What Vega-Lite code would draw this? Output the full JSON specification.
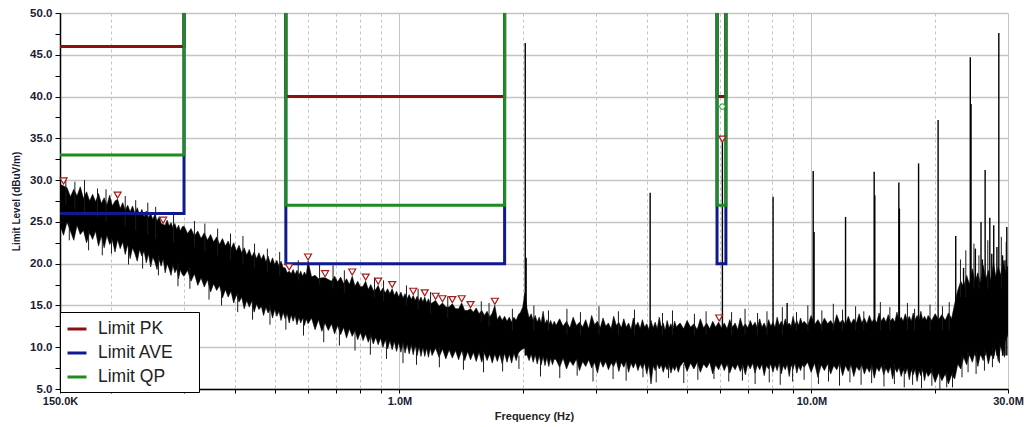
{
"$schema": "https://vega.github.io/schema/vega-lite/v6.json",
"width": 948, "height": 376,
"autosize": {"type": "none"},
"padding": {"left": 60, "top": 13, "right": 16, "bottom": 38},
"background": "white",
"config": {"view": {"stroke": null}, "font": "Liberation Sans"},
"datasets": {
"trace": [
{"f":150000,"v":29.5,"lo":24.6},{"f":153000,"v":29.3,"lo":23.4},{"f":156000,"v":29.1,"lo":25.0},{"f":159000,"v":28.0,"lo":23.9},{"f":162000,"v":28.9,"lo":22.8},{"f":165000,"v":28.1,"lo":24.6},{"f":168000,"v":29.2,"lo":23.5},{"f":171000,"v":27.8,"lo":24.0},{"f":174000,"v":28.6,"lo":22.5},{"f":177000,"v":27.5,"lo":23.7},
{"f":180000,"v":28.3,"lo":22.9},{"f":183000,"v":27.4,"lo":23.9},{"f":186000,"v":28.4,"lo":22.1},{"f":189000,"v":27.2,"lo":23.3},{"f":192000,"v":27.9,"lo":21.9},{"f":195000,"v":27.0,"lo":23.4},{"f":198000,"v":28.2,"lo":22.3},{"f":201000,"v":26.9,"lo":22.8},{"f":204000,"v":27.5,"lo":21.4},{"f":207000,"v":27.7,"lo":22.9},
{"f":210000,"v":26.6,"lo":21.8},{"f":213000,"v":27.3,"lo":22.6},{"f":216000,"v":26.4,"lo":21.1},{"f":219000,"v":27.0,"lo":22.3},{"f":222000,"v":26.2,"lo":20.6},{"f":225000,"v":26.9,"lo":21.9},{"f":228000,"v":26.0,"lo":21.2},{"f":231000,"v":26.7,"lo":20.3},{"f":234000,"v":25.8,"lo":21.7},{"f":237000,"v":26.5,"lo":20.9},
{"f":240000,"v":25.6,"lo":21.5},{"f":243000,"v":26.3,"lo":20.1},{"f":246000,"v":25.5,"lo":21.2},{"f":249000,"v":26.0,"lo":19.6},{"f":252000,"v":25.3,"lo":20.8},{"f":255000,"v":25.9,"lo":20.2},{"f":258000,"v":25.1,"lo":19.3},{"f":261000,"v":25.6,"lo":20.5},{"f":264000,"v":24.8,"lo":19.7},{"f":267000,"v":24.7,"lo":20.6},
{"f":270000,"v":24.6,"lo":18.9},{"f":273000,"v":25.2,"lo":20.0},{"f":276000,"v":24.5,"lo":19.4},{"f":279000,"v":24.9,"lo":18.6},{"f":282000,"v":24.3,"lo":19.8},{"f":285000,"v":24.8,"lo":18.9},{"f":288000,"v":24.1,"lo":19.4},{"f":291000,"v":24.6,"lo":18.2},{"f":294000,"v":23.9,"lo":19.3},{"f":297000,"v":24.4,"lo":18.7},
{"f":300000,"v":24.5,"lo":18.5},{"f":306000,"v":23.6,"lo":19.2},{"f":312000,"v":24.2,"lo":17.9},{"f":318000,"v":23.3,"lo":18.8},{"f":324000,"v":23.9,"lo":17.4},{"f":330000,"v":23.0,"lo":18.3},{"f":336000,"v":23.7,"lo":17.2},{"f":342000,"v":22.8,"lo":18.1},{"f":348000,"v":23.5,"lo":16.6},{"f":354000,"v":22.6,"lo":17.6},
{"f":360000,"v":23.2,"lo":16.8},{"f":366000,"v":22.3,"lo":17.4},{"f":372000,"v":23.0,"lo":15.9},{"f":378000,"v":22.1,"lo":16.9},{"f":384000,"v":22.7,"lo":16.0},{"f":390000,"v":21.8,"lo":16.7},{"f":396000,"v":22.5,"lo":15.3},{"f":402000,"v":21.5,"lo":16.3},{"f":408000,"v":22.2,"lo":15.4},{"f":414000,"v":21.3,"lo":16.0},
{"f":420000,"v":21.9,"lo":14.6},{"f":426000,"v":21.0,"lo":15.6},{"f":432000,"v":21.7,"lo":14.8},{"f":438000,"v":20.8,"lo":15.5},{"f":444000,"v":21.4,"lo":14.2},{"f":450000,"v":20.6,"lo":15.2},{"f":456000,"v":21.3,"lo":14.5},{"f":462000,"v":20.5,"lo":14.9},{"f":468000,"v":21.1,"lo":13.8},{"f":474000,"v":20.2,"lo":14.8},
{"f":480000,"v":20.9,"lo":14.1},{"f":486000,"v":20.0,"lo":14.6},{"f":492000,"v":20.7,"lo":13.5},{"f":498000,"v":19.9,"lo":14.5},{"f":504000,"v":20.4,"lo":13.7},{"f":510000,"v":19.7,"lo":14.3},{"f":516000,"v":20.3,"lo":13.2},{"f":522000,"v":19.5,"lo":14.2},{"f":528000,"v":19.5,"lo":13.4},{"f":534000,"v":18.9,"lo":14.0},
{"f":540000,"v":19.1,"lo":12.9},{"f":546000,"v":18.8,"lo":13.9},{"f":552000,"v":19.3,"lo":13.1},{"f":558000,"v":18.7,"lo":13.8},{"f":564000,"v":19.2,"lo":12.7},{"f":570000,"v":18.6,"lo":13.6},{"f":576000,"v":19.1,"lo":12.9},{"f":582000,"v":18.5,"lo":13.5},{"f":588000,"v":19.0,"lo":12.6},{"f":594000,"v":18.6,"lo":13.4},
{"f":600000,"v":20.3,"lo":12.8},{"f":612000,"v":18.4,"lo":13.5},{"f":624000,"v":18.6,"lo":12.1},{"f":636000,"v":18.2,"lo":13.3},{"f":648000,"v":18.3,"lo":11.9},{"f":660000,"v":18.3,"lo":12.9},{"f":672000,"v":18.1,"lo":12.0},{"f":684000,"v":17.9,"lo":12.8},{"f":696000,"v":18.5,"lo":11.6},{"f":708000,"v":17.8,"lo":12.6},
{"f":720000,"v":18.4,"lo":11.5},{"f":732000,"v":17.6,"lo":12.4},{"f":744000,"v":18.2,"lo":11.1},{"f":756000,"v":17.5,"lo":12.2},{"f":768000,"v":18.5,"lo":11.3},{"f":780000,"v":17.3,"lo":12.0},{"f":792000,"v":17.9,"lo":10.9},{"f":804000,"v":17.2,"lo":11.8},{"f":816000,"v":17.3,"lo":10.8},{"f":828000,"v":17.9,"lo":11.6},
{"f":840000,"v":16.9,"lo":10.6},{"f":852000,"v":17.5,"lo":11.4},{"f":864000,"v":16.8,"lo":10.4},{"f":876000,"v":16.9,"lo":11.2},{"f":888000,"v":17.4,"lo":10.3},{"f":900000,"v":16.6,"lo":11.1},{"f":912000,"v":17.1,"lo":10.0},{"f":924000,"v":16.5,"lo":10.9},{"f":936000,"v":17.0,"lo":9.8},{"f":948000,"v":16.4,"lo":10.8},
{"f":960000,"v":17.0,"lo":9.7},{"f":972000,"v":16.2,"lo":10.7},{"f":984000,"v":16.7,"lo":9.5},{"f":996000,"v":16.0,"lo":10.6},{"f":1008000,"v":16.6,"lo":9.4},{"f":1020000,"v":15.9,"lo":10.5},{"f":1032000,"v":16.4,"lo":9.3},{"f":1044000,"v":15.8,"lo":10.4},{"f":1056000,"v":16.3,"lo":9.2},{"f":1068000,"v":15.7,"lo":10.3},
{"f":1080000,"v":16.2,"lo":9.1},{"f":1092000,"v":15.6,"lo":10.2},{"f":1104000,"v":16.1,"lo":9.0},{"f":1116000,"v":15.5,"lo":10.1},{"f":1128000,"v":16.0,"lo":8.9},{"f":1140000,"v":15.4,"lo":10.0},{"f":1152000,"v":16.0,"lo":8.9},{"f":1164000,"v":15.3,"lo":9.9},{"f":1176000,"v":15.8,"lo":8.8},{"f":1188000,"v":15.2,"lo":9.9},
{"f":1200000,"v":15.3,"lo":9.0},{"f":1224000,"v":15.6,"lo":9.9},{"f":1248000,"v":14.9,"lo":8.8},{"f":1272000,"v":15.3,"lo":9.8},{"f":1296000,"v":14.8,"lo":8.6},{"f":1320000,"v":14.8,"lo":9.7},{"f":1344000,"v":15.2,"lo":8.7},{"f":1368000,"v":14.6,"lo":9.6},{"f":1392000,"v":14.6,"lo":8.5},{"f":1416000,"v":15.3,"lo":9.6},
{"f":1440000,"v":14.4,"lo":8.4},{"f":1464000,"v":14.4,"lo":9.5},{"f":1488000,"v":14.6,"lo":8.5},{"f":1512000,"v":14.2,"lo":9.4},{"f":1536000,"v":14.7,"lo":8.3},{"f":1560000,"v":14.0,"lo":9.4},{"f":1584000,"v":14.4,"lo":8.2},{"f":1608000,"v":13.8,"lo":9.3},{"f":1632000,"v":14.3,"lo":8.4},{"f":1656000,"v":13.6,"lo":9.2},
{"f":1680000,"v":14.1,"lo":8.1},{"f":1704000,"v":15.0,"lo":9.2},{"f":1728000,"v":13.3,"lo":8.3},{"f":1752000,"v":13.8,"lo":9.2},{"f":1776000,"v":13.2,"lo":8.0},{"f":1800000,"v":13.7,"lo":9.3},{"f":1824000,"v":13.1,"lo":8.2},{"f":1848000,"v":13.6,"lo":9.2},{"f":1872000,"v":13.0,"lo":8.1},{"f":1896000,"v":13.6,"lo":9.3},
{"f":1920000,"v":13.2,"lo":8.4},{"f":1944000,"v":13.9,"lo":9.3},{"f":1968000,"v":14.2,"lo":9.6},{"f":1992000,"v":14.8,"lo":9.8},{"f":2016000,"v":16.5,"lo":9.9},{"f":2040000,"v":14.6,"lo":9.1},{"f":2064000,"v":13.5,"lo":8.4},{"f":2088000,"v":14.0,"lo":9.2},{"f":2112000,"v":13.2,"lo":8.2},{"f":2136000,"v":13.8,"lo":9.1},
{"f":2160000,"v":13.0,"lo":8.0},{"f":2184000,"v":13.6,"lo":9.0},{"f":2208000,"v":12.9,"lo":7.9},{"f":2232000,"v":14.3,"lo":8.9},{"f":2256000,"v":12.8,"lo":7.8},{"f":2280000,"v":13.3,"lo":8.8},{"f":2304000,"v":12.7,"lo":7.7},{"f":2328000,"v":13.2,"lo":8.7},{"f":2352000,"v":12.6,"lo":7.9},{"f":2376000,"v":13.1,"lo":8.6},
{"f":2400000,"v":12.6,"lo":8.5},{"f":2448000,"v":13.4,"lo":7.6},{"f":2496000,"v":12.5,"lo":8.7},{"f":2544000,"v":13.1,"lo":7.4},{"f":2592000,"v":12.3,"lo":8.4},{"f":2640000,"v":13.6,"lo":7.8},{"f":2688000,"v":12.6,"lo":8.6},{"f":2736000,"v":13.0,"lo":7.2},{"f":2784000,"v":12.4,"lo":8.3},{"f":2832000,"v":13.3,"lo":7.7},
{"f":2880000,"v":12.2,"lo":8.5},{"f":2928000,"v":13.8,"lo":7.5},{"f":2976000,"v":12.7,"lo":8.2},{"f":3024000,"v":13.1,"lo":6.9},{"f":3072000,"v":12.3,"lo":8.4},{"f":3120000,"v":13.5,"lo":7.6},{"f":3168000,"v":12.5,"lo":8.3},{"f":3216000,"v":12.9,"lo":7.3},{"f":3264000,"v":12.2,"lo":8.1},{"f":3312000,"v":13.7,"lo":7.7},
{"f":3360000,"v":12.6,"lo":8.4},{"f":3408000,"v":13.0,"lo":7.1},{"f":3456000,"v":12.3,"lo":8.2},{"f":3504000,"v":13.4,"lo":7.6},{"f":3552000,"v":12.4,"lo":8.3},{"f":3600000,"v":12.9,"lo":7.0},{"f":3648000,"v":12.1,"lo":8.1},{"f":3696000,"v":13.5,"lo":7.5},{"f":3744000,"v":12.5,"lo":8.2},{"f":3792000,"v":13.0,"lo":7.2},
{"f":3840000,"v":12.2,"lo":8.0},{"f":3888000,"v":13.3,"lo":7.4},{"f":3936000,"v":12.4,"lo":8.1},{"f":3984000,"v":12.8,"lo":6.8},{"f":4032000,"v":12.1,"lo":7.9},{"f":4080000,"v":13.2,"lo":5.6},{"f":4128000,"v":12.3,"lo":7.8},{"f":4176000,"v":13.0,"lo":7.2},{"f":4224000,"v":12.2,"lo":8.0},{"f":4272000,"v":13.6,"lo":7.4},
{"f":4320000,"v":12.4,"lo":7.9},{"f":4368000,"v":12.9,"lo":7.0},{"f":4416000,"v":12.0,"lo":7.8},{"f":4464000,"v":13.2,"lo":7.3},{"f":4512000,"v":12.3,"lo":7.9},{"f":4560000,"v":12.8,"lo":6.9},{"f":4608000,"v":12.1,"lo":7.7},{"f":4656000,"v":13.1,"lo":7.2},{"f":4704000,"v":12.4,"lo":7.8},{"f":4752000,"v":12.7,"lo":7.0},
{"f":4800000,"v":12.9,"lo":7.7},{"f":4896000,"v":12.2,"lo":8.3},{"f":4992000,"v":13.2,"lo":7.1},{"f":5088000,"v":12.4,"lo":8.1},{"f":5184000,"v":12.8,"lo":7.4},{"f":5280000,"v":12.1,"lo":8.2},{"f":5376000,"v":13.4,"lo":7.0},{"f":5472000,"v":12.3,"lo":8.0},{"f":5568000,"v":12.9,"lo":7.5},{"f":5664000,"v":12.2,"lo":8.2},
{"f":5760000,"v":13.1,"lo":6.8},{"f":5856000,"v":12.4,"lo":7.9},{"f":5952000,"v":13.0,"lo":7.3},{"f":6048000,"v":12.3,"lo":8.1},{"f":6144000,"v":12.9,"lo":7.2},{"f":6240000,"v":12.2,"lo":8.0},{"f":6336000,"v":13.3,"lo":6.9},{"f":6432000,"v":12.4,"lo":7.8},{"f":6528000,"v":12.9,"lo":7.3},{"f":6624000,"v":12.1,"lo":8.0},
{"f":6720000,"v":13.5,"lo":7.1},{"f":6816000,"v":12.4,"lo":7.9},{"f":6912000,"v":12.8,"lo":6.7},{"f":7008000,"v":12.3,"lo":8.0},{"f":7104000,"v":13.2,"lo":7.4},{"f":7200000,"v":12.5,"lo":8.1},{"f":7296000,"v":13.0,"lo":6.9},{"f":7392000,"v":12.3,"lo":7.9},{"f":7488000,"v":13.4,"lo":7.3},{"f":7584000,"v":12.4,"lo":8.0},
{"f":7680000,"v":12.9,"lo":6.6},{"f":7776000,"v":12.2,"lo":7.8},{"f":7872000,"v":13.3,"lo":7.4},{"f":7968000,"v":12.5,"lo":8.0},{"f":8064000,"v":13.0,"lo":7.0},{"f":8160000,"v":12.4,"lo":7.9},{"f":8256000,"v":13.6,"lo":7.2},{"f":8352000,"v":12.6,"lo":8.1},{"f":8448000,"v":13.1,"lo":6.8},{"f":8544000,"v":12.5,"lo":7.8},
{"f":8640000,"v":13.4,"lo":7.3},{"f":8736000,"v":12.6,"lo":8.0},{"f":8832000,"v":12.9,"lo":6.5},{"f":8928000,"v":12.5,"lo":7.9},{"f":9024000,"v":13.7,"lo":7.4},{"f":9120000,"v":12.7,"lo":8.1},{"f":9216000,"v":13.2,"lo":6.9},{"f":9312000,"v":12.6,"lo":7.8},{"f":9408000,"v":13.5,"lo":7.2},{"f":9504000,"v":12.8,"lo":7.9},
{"f":9600000,"v":13.1,"lo":7.6},{"f":9792000,"v":12.6,"lo":8.2},{"f":9984000,"v":13.8,"lo":7.0},{"f":10176000,"v":12.7,"lo":8.1},{"f":10368000,"v":13.3,"lo":6.4},{"f":10560000,"v":12.6,"lo":7.9},{"f":10752000,"v":13.5,"lo":7.2},{"f":10944000,"v":12.8,"lo":8.0},{"f":11136000,"v":13.2,"lo":6.8},{"f":11328000,"v":12.6,"lo":7.8},
{"f":11520000,"v":13.9,"lo":7.3},{"f":11712000,"v":12.9,"lo":8.1},{"f":11904000,"v":13.3,"lo":6.6},{"f":12096000,"v":12.7,"lo":7.8},{"f":12288000,"v":13.7,"lo":7.1},{"f":12480000,"v":12.8,"lo":7.9},{"f":12672000,"v":13.4,"lo":6.5},{"f":12864000,"v":12.9,"lo":7.7},{"f":13056000,"v":14.0,"lo":7.2},{"f":13248000,"v":12.9,"lo":7.9},
{"f":13440000,"v":13.5,"lo":6.8},{"f":13632000,"v":12.8,"lo":7.6},{"f":13824000,"v":13.8,"lo":7.0},{"f":14016000,"v":13.0,"lo":7.8},{"f":14208000,"v":13.4,"lo":6.3},{"f":14400000,"v":12.9,"lo":7.6},{"f":14592000,"v":14.1,"lo":7.1},{"f":14784000,"v":13.1,"lo":7.8},{"f":14976000,"v":13.6,"lo":6.7},{"f":15168000,"v":13.0,"lo":7.5},
{"f":15360000,"v":13.9,"lo":6.9},{"f":15552000,"v":13.1,"lo":7.7},{"f":15744000,"v":13.5,"lo":6.2},{"f":15936000,"v":13.0,"lo":7.5},{"f":16128000,"v":14.2,"lo":7.0},{"f":16320000,"v":13.2,"lo":7.6},{"f":16512000,"v":13.6,"lo":6.5},{"f":16704000,"v":13.1,"lo":7.3},{"f":16896000,"v":14.0,"lo":6.8},{"f":17088000,"v":13.2,"lo":7.5},
{"f":17280000,"v":13.7,"lo":6.1},{"f":17472000,"v":13.1,"lo":7.3},{"f":17664000,"v":14.1,"lo":6.7},{"f":17856000,"v":13.3,"lo":7.4},{"f":18048000,"v":13.8,"lo":5.9},{"f":18240000,"v":13.2,"lo":7.2},{"f":18432000,"v":14.3,"lo":6.6},{"f":18624000,"v":13.3,"lo":7.3},{"f":18816000,"v":13.7,"lo":6.0},{"f":19008000,"v":13.2,"lo":7.1},
{"f":19200000,"v":13.8,"lo":6.5},{"f":19584000,"v":13.2,"lo":7.1},{"f":19968000,"v":14.0,"lo":5.8},{"f":20352000,"v":13.3,"lo":6.9},{"f":20736000,"v":13.9,"lo":6.0},{"f":21120000,"v":13.2,"lo":6.8},{"f":21504000,"v":14.1,"lo":5.6},{"f":21888000,"v":13.4,"lo":6.7},{"f":22272000,"v":15.2,"lo":6.2},{"f":22656000,"v":16.8,"lo":8.0},
{"f":23040000,"v":17.9,"lo":7.4},{"f":23424000,"v":17.2,"lo":8.8},{"f":23808000,"v":18.6,"lo":7.9},{"f":24192000,"v":17.5,"lo":9.1},{"f":24576000,"v":19.4,"lo":8.2},{"f":24960000,"v":17.8,"lo":9.4},{"f":25344000,"v":18.9,"lo":7.7},{"f":25728000,"v":17.6,"lo":9.2},{"f":26112000,"v":19.8,"lo":8.4},{"f":26496000,"v":18.1,"lo":9.6},
{"f":26880000,"v":19.2,"lo":8.0},{"f":27264000,"v":17.9,"lo":9.3},{"f":27648000,"v":20.1,"lo":8.6},{"f":28032000,"v":18.4,"lo":9.9},{"f":28416000,"v":19.6,"lo":8.3},{"f":28800000,"v":18.6,"lo":10.2},{"f":29184000,"v":20.4,"lo":9.0},{"f":29568000,"v":19.0,"lo":10.8},{"f":29952000,"v":19.7,"lo":11.4},{"f":30000000,"v":18.8,"lo":11.8}
],
"needles": [
{"f":155000,"v":30.3,"b":27},{"f":163000,"v":29.8,"b":26.5},{"f":172000,"v":30.0,"b":26},{"f":185000,"v":29.0,"b":25.5},{"f":194000,"v":28.9,"b":25},{"f":216000,"v":28.1,"b":24.5},{"f":229000,"v":27.6,"b":24},{"f":245000,"v":27.3,"b":23.5},{"f":256000,"v":26.8,"b":23},{"f":283000,"v":26.0,"b":22.5},
{"f":318000,"v":25.1,"b":22},{"f":337000,"v":24.8,"b":21.5},{"f":362000,"v":24.2,"b":21},{"f":389000,"v":23.6,"b":20.5},{"f":417000,"v":23.3,"b":20},{"f":445000,"v":22.4,"b":19.5},{"f":478000,"v":21.8,"b":19},{"f":512000,"v":21.4,"b":18.5},{"f":568000,"v":20.4,"b":18},{"f":640000,"v":20.0,"b":17.5},
{"f":690000,"v":19.8,"b":17},{"f":735000,"v":19.2,"b":16.5},{"f":870000,"v":18.3,"b":16},{"f":915000,"v":18.0,"b":15.5},{"f":1040000,"v":17.4,"b":15},{"f":1110000,"v":17.0,"b":14.5},{"f":1190000,"v":16.6,"b":14},{"f":1310000,"v":16.1,"b":13.5},{"f":1580000,"v":15.5,"b":13},{"f":1650000,"v":15.3,"b":12.5},
{"f":1880000,"v":14.6,"b":12},{"f":2120000,"v":15.0,"b":12},{"f":2300000,"v":14.4,"b":12},{"f":2550000,"v":14.6,"b":11.5},{"f":2750000,"v":14.2,"b":11.5},{"f":3050000,"v":14.9,"b":11.5},{"f":3400000,"v":14.3,"b":11.5},{"f":3720000,"v":14.5,"b":11.5},{"f":4350000,"v":14.1,"b":11.5},{"f":4600000,"v":14.4,"b":11.5},
{"f":5200000,"v":14.0,"b":11.5},{"f":5550000,"v":14.3,"b":11.5},{"f":6400000,"v":14.2,"b":11.5},{"f":6900000,"v":14.6,"b":11.5},{"f":7400000,"v":14.1,"b":11.5},{"f":7800000,"v":14.3,"b":11.5},{"f":8500000,"v":14.8,"b":11.5},{"f":9200000,"v":14.2,"b":12},{"f":9800000,"v":15.0,"b":12},{"f":10600000,"v":14.4,"b":12},
{"f":11300000,"v":15.2,"b":12},{"f":11900000,"v":14.5,"b":12},{"f":12800000,"v":14.9,"b":12},{"f":13400000,"v":14.3,"b":12},{"f":14700000,"v":15.4,"b":12},{"f":15500000,"v":14.8,"b":12},{"f":17100000,"v":15.3,"b":12},{"f":17800000,"v":14.6,"b":12},{"f":19400000,"v":15.1,"b":12},{"f":20800000,"v":14.9,"b":12},
{"f":21600000,"v":15.4,"b":12},{"f":23000000,"v":20.5,"b":16},{"f":23700000,"v":21.6,"b":16},{"f":24800000,"v":22.4,"b":17},{"f":25500000,"v":21.0,"b":17},{"f":26800000,"v":22.8,"b":17},{"f":28900000,"v":23.2,"b":17},{"f":29700000,"v":22.6,"b":17},
{"f":158000,"v":22.8,"b":25},{"f":176000,"v":21.6,"b":24},{"f":190000,"v":21.0,"b":23},{"f":200000,"v":21.2,"b":23},{"f":220000,"v":19.9,"b":22},{"f":238000,"v":19.4,"b":21.5},{"f":260000,"v":18.6,"b":21},{"f":290000,"v":17.3,"b":20},{"f":310000,"v":17.0,"b":19.5},{"f":345000,"v":15.7,"b":18},
{"f":370000,"v":15.0,"b":17},{"f":405000,"v":14.2,"b":16.5},{"f":440000,"v":13.3,"b":15.5},{"f":485000,"v":12.7,"b":15},{"f":530000,"v":12.1,"b":14},{"f":585000,"v":11.4,"b":13.5},{"f":655000,"v":10.6,"b":13},{"f":715000,"v":10.2,"b":12.5},{"f":780000,"v":9.6,"b":12},{"f":850000,"v":9.1,"b":11.5},
{"f":930000,"v":8.6,"b":11},{"f":1020000,"v":8.1,"b":10.5},{"f":1100000,"v":7.9,"b":10},{"f":1250000,"v":7.6,"b":10},{"f":1430000,"v":7.3,"b":9.5},{"f":1600000,"v":7.0,"b":9.5},{"f":1780000,"v":7.1,"b":9},{"f":1950000,"v":7.4,"b":9},{"f":2200000,"v":6.5,"b":8.5},{"f":2450000,"v":6.3,"b":8.5},
{"f":2700000,"v":6.6,"b":8.5},{"f":2950000,"v":5.9,"b":8},{"f":3300000,"v":6.2,"b":8},{"f":3550000,"v":6.0,"b":8},{"f":3900000,"v":6.4,"b":8},{"f":4200000,"v":5.8,"b":8},{"f":4500000,"v":6.3,"b":8},{"f":4900000,"v":5.7,"b":8},{"f":5300000,"v":6.1,"b":8},{"f":5800000,"v":6.2,"b":8},
{"f":6300000,"v":5.9,"b":8},{"f":6800000,"v":6.0,"b":8},{"f":7300000,"v":5.6,"b":8},{"f":7900000,"v":5.8,"b":8},{"f":8400000,"v":5.5,"b":8},{"f":9000000,"v":5.9,"b":8},{"f":9600000,"v":6.1,"b":8},{"f":10400000,"v":5.6,"b":8},{"f":11000000,"v":5.9,"b":8},{"f":11700000,"v":5.4,"b":8},
{"f":12400000,"v":5.8,"b":8},{"f":13200000,"v":5.5,"b":8},{"f":14000000,"v":5.7,"b":8},{"f":15000000,"v":5.3,"b":8},{"f":15900000,"v":5.6,"b":8},{"f":16800000,"v":5.2,"b":7.5},{"f":17600000,"v":5.5,"b":7.5},{"f":18500000,"v":5.1,"b":7.5},{"f":19600000,"v":5.4,"b":7.5},{"f":20500000,"v":5.0,"b":7},
{"f":21300000,"v":5.2,"b":7},{"f":22000000,"v":5.2,"b":7},{"f":23200000,"v":6.4,"b":9},{"f":24000000,"v":7.0,"b":9.5},{"f":25100000,"v":6.8,"b":9.5},{"f":26300000,"v":7.2,"b":10},{"f":27500000,"v":7.6,"b":10},{"f":28600000,"v":8.1,"b":10.5},{"f":29400000,"v":8.8,"b":11}
],
"spikes": [
{"f":2020000,"v":46.4},{"f":2030000,"v":20.7},{"f":4060000,"v":28.5},{"f":6080000,"v":34.6},{"f":8070000,"v":28.0},{"f":8730000,"v":15.3},{"f":10100000,"v":31.1},{"f":10150000,"v":23.8},{"f":12100000,"v":25.6},{"f":14200000,"v":31.0},{"f":14250000,"v":28.2},{"f":16300000,"v":29.7},{"f":16350000,"v":26.6},{"f":18200000,"v":32.0},{"f":20300000,"v":37.2},{"f":22400000,"v":23.3},{"f":23400000,"v":19.5},{"f":24300000,"v":44.7},{"f":24400000,"v":39.1},{"f":25000000,"v":21.8},{"f":25800000,"v":25.0},{"f":26000000,"v":20.5},{"f":26400000,"v":31.2},{"f":27100000,"v":25.5},{"f":27400000,"v":21.2},{"f":27700000,"v":24.6},{"f":28200000,"v":22.0},{"f":28500000,"v":47.6},{"f":29100000,"v":21.0},{"f":29500000,"v":20.4},{"f":29800000,"v":24.4}
],
"limits": [
{"limit":"Limit PK","o":1,"f":150000,"v":46},{"limit":"Limit PK","o":2,"f":300000,"v":46},{"limit":"Limit PK","o":3,"f":300000,"v":60},{"limit":"Limit PK","o":4,"f":530000,"v":60},{"limit":"Limit PK","o":5,"f":530000,"v":40},{"limit":"Limit PK","o":6,"f":1800000,"v":40},{"limit":"Limit PK","o":7,"f":1800000,"v":60},{"limit":"Limit PK","o":8,"f":5900000,"v":60},{"limit":"Limit PK","o":9,"f":5900000,"v":40},{"limit":"Limit PK","o":10,"f":6200000,"v":40},{"limit":"Limit PK","o":11,"f":6200000,"v":60},{"limit":"Limit PK","o":12,"f":30000000,"v":60},
{"limit":"Limit AVE","o":1,"f":150000,"v":26},{"limit":"Limit AVE","o":2,"f":300000,"v":26},{"limit":"Limit AVE","o":3,"f":300000,"v":60},{"limit":"Limit AVE","o":4,"f":530000,"v":60},{"limit":"Limit AVE","o":5,"f":530000,"v":20},{"limit":"Limit AVE","o":6,"f":1800000,"v":20},{"limit":"Limit AVE","o":7,"f":1800000,"v":60},{"limit":"Limit AVE","o":8,"f":5900000,"v":60},{"limit":"Limit AVE","o":9,"f":5900000,"v":20},{"limit":"Limit AVE","o":10,"f":6200000,"v":20},{"limit":"Limit AVE","o":11,"f":6200000,"v":60},{"limit":"Limit AVE","o":12,"f":30000000,"v":60},
{"limit":"Limit QP","o":1,"f":150000,"v":33},{"limit":"Limit QP","o":2,"f":300000,"v":33},{"limit":"Limit QP","o":3,"f":300000,"v":60},{"limit":"Limit QP","o":4,"f":530000,"v":60},{"limit":"Limit QP","o":5,"f":530000,"v":27},{"limit":"Limit QP","o":6,"f":1800000,"v":27},{"limit":"Limit QP","o":7,"f":1800000,"v":60},{"limit":"Limit QP","o":8,"f":5900000,"v":60},{"limit":"Limit QP","o":9,"f":5900000,"v":27},{"limit":"Limit QP","o":10,"f":6200000,"v":27},{"limit":"Limit QP","o":11,"f":6200000,"v":60},{"limit":"Limit QP","o":12,"f":30000000,"v":60}
],
"peaks": [
{"f":153000,"v":29.9},{"f":207000,"v":28.2},{"f":267000,"v":25.2},{"f":540000,"v":19.6},{"f":600000,"v":20.8},{"f":660000,"v":18.8},{"f":768000,"v":19.0},{"f":828000,"v":18.4},{"f":888000,"v":17.9},{"f":960000,"v":17.5},{"f":1080000,"v":16.7},{"f":1152000,"v":16.5},{"f":1224000,"v":16.1},{"f":1272000,"v":15.8},{"f":1344000,"v":15.7},{"f":1416000,"v":15.8},{"f":1488000,"v":15.1},{"f":1704000,"v":15.5},{"f":5970000,"v":13.5},{"f":6080000,"v":34.9}
],
"marker": [{"f":6080000,"v":38.8}]
},
"encoding": {
"x": {"field":"f","type":"quantitative",
 "scale":{"type":"log","domain":[150000,30000000],"nice":false},
 "axis":{"title":"Frequency (Hz)",
  "values":[150000,200000,300000,400000,500000,600000,700000,800000,900000,1000000,2000000,3000000,4000000,5000000,6000000,7000000,8000000,9000000,10000000,20000000,30000000],
  "labelExpr":"indexof([150000,1000000,10000000,30000000], datum.value) < 0 ? '' : (datum.value >= 1000000 ? format(datum.value/1000000, '.1f') + 'M' : format(datum.value/1000, '.1f') + 'K')",
  "labelOverlap":false,"labelFlush":false,
  "grid":true,"gridColor":"#c4c4c4","gridWidth":1,
  "gridDash":{"condition":{"test":"indexof([1000000,10000000,30000000], datum.value) >= 0","value":[]},"value":[3,3]},
  "domainColor":"#000","domainWidth":1.5,"tickColor":"#000","tickSize":4,"tickWidth":1,
  "labelFontSize":11,"labelFontWeight":"bold","labelColor":"#1a1a33","labelPadding":2,
  "titleFontSize":11,"titleFontWeight":"bold","titleColor":"#222","titlePadding":4}},
"y": {"field":"v","type":"quantitative",
 "scale":{"domain":[5,50],"nice":false,"zero":false},
 "title":"Limit Level (dBuV/m)",
 "axis":{"values":[5,7.5,10,12.5,15,17.5,20,22.5,25,27.5,30,32.5,35,37.5,40,42.5,45,47.5,50],
  "labelExpr":"datum.value % 5 == 0 ? format(datum.value, '.1f') : ''",
  "grid":true,"gridColor":"#c4c4c4","gridWidth":1.5,
  "gridOpacity":{"condition":{"test":"datum.value % 5 != 0","value":0},"value":1},
  "domainColor":"#000","domainWidth":1.5,"tickColor":"#000","tickSize":5,
  "labelFontSize":11.5,"labelFontWeight":"bold","labelColor":"#1a1a33","labelPadding":3,
  "titleFontSize":10,"titleFontWeight":"bold","titleColor":"#1a1a33","titlePadding":8}}
},
"layer": [
{"data":{"name":"trace"},"mark":{"type":"area","color":"black","stroke":"black","strokeWidth":0.6,"clip":true},
 "encoding":{"y2":{"field":"lo"}}},
{"data":{"name":"needles"},"mark":{"type":"rule","color":"#1a1a1a","strokeWidth":1,"clip":true},
 "encoding":{"y2":{"field":"b"}}},
{"data":{"name":"spikes"},"mark":{"type":"rule","color":"black","strokeWidth":1.4,"clip":true},
 "encoding":{"y2":{"datum":9}}},
{"data":{"name":"limits"},"transform":[{"filter":"datum.limit == 'Limit PK'"}],
 "mark":{"type":"line","strokeWidth":3,"clip":true,"strokeCap":"butt"},
 "encoding":{"order":{"field":"o"},"color":{"field":"limit","type":"nominal","scale":{"domain":["Limit PK","Limit AVE","Limit QP"],"range":["#8b1010","#101a8c","#1e8c1e"]},
  "legend":{"title":null,"orient":"none","legendX":0,"legendY":299,"symbolType":"stroke","symbolStrokeWidth":3,"symbolSize":361,"labelFontSize":17.5,"labelColor":"#222","labelFont":"Liberation Sans","fillColor":"white","strokeColor":"black","padding":6,"rowPadding":4,"labelOffset":10,"labelExpr":"datum.label + '\u00a0\u00a0\u00a0\u00a0\u200b'"}}}},
{"data":{"name":"limits"},"transform":[{"filter":"datum.limit == 'Limit AVE'"}],
 "mark":{"type":"line","strokeWidth":3,"clip":true,"strokeCap":"butt"},
 "encoding":{"order":{"field":"o"},"color":{"field":"limit","type":"nominal"}}},
{"data":{"name":"limits"},"transform":[{"filter":"datum.limit == 'Limit QP'"}],
 "mark":{"type":"line","strokeWidth":3,"clip":true,"strokeCap":"butt"},
 "encoding":{"order":{"field":"o"},"color":{"field":"limit","type":"nominal"}}},
{"data":{"name":"peaks"},"mark":{"type":"point","shape":"triangle-down","filled":true,"fill":"white","stroke":"#a81818","strokeWidth":1.2,"size":48,"opacity":1}},
{"data":{"name":"marker"},"mark":{"type":"point","shape":"circle","filled":true,"fill":"white","stroke":"#1e8c1e","strokeWidth":1,"size":30,"opacity":1}}
]
}
